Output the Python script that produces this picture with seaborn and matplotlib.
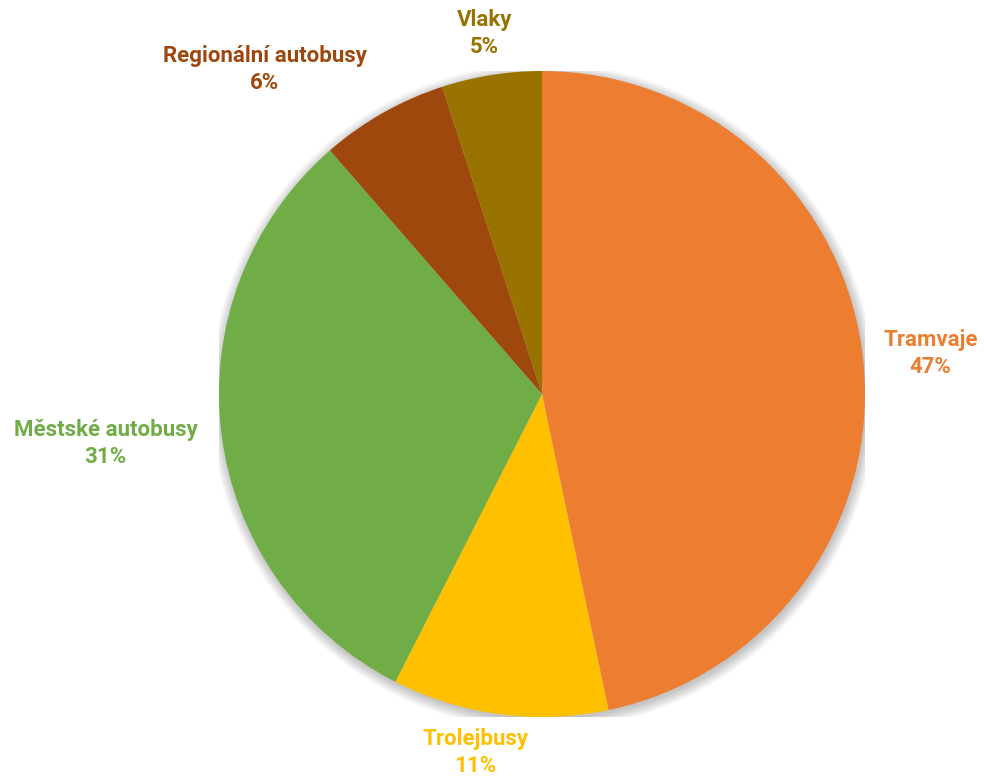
import matplotlib
matplotlib.use("Agg")
import matplotlib.pyplot as plt
import seaborn as sns
import numpy as np
from matplotlib.patches import Circle

categories = ["Tramvaje", "Trolejbusy", "Městské autobusy", "Regionální autobusy", "Vlaky"]
values = [46.7, 10.8, 31.1, 6.4, 5.0]

colors = sns.color_palette(["#ED7D31", "#FFC000", "#70AD47", "#9E480E", "#997300"])

sns.set_theme(style="white")
plt.rcParams['font.family'] = ['Roboto', 'DejaVu Sans']

W, H = 984, 780
fig = plt.figure(figsize=(W / 100, H / 100), dpi=100)
cx, cy, r = 542, 394, 323
ax = fig.add_axes([(cx - r) / W, 1 - (cy + r) / H, 2 * r / W, 2 * r / H])
ax.axis("off")

# soft shadow
for k in range(10):
    ax.add_patch(Circle((0.004, -0.008), 1.0 + k * 0.0035, color="black",
                        alpha=0.022, lw=0, zorder=0))

wedges, _ = ax.pie(values, colors=colors, startangle=90, counterclock=False,
                   radius=1.0, wedgeprops=dict(linewidth=0),
                   frame=False)
for w in wedges:
    w.set_zorder(2)
ax.set_xlim(-1, 1)
ax.set_ylim(-1, 1)
ax.set_aspect("equal")

total = sum(values)
# label placement style: distance factor and angular offset (deg)
label_dist = [1.21, 1.13, 1.36, 1.32, 1.13]
label_off = [0, -3, -0.5, 11, 0]
for w, cat, v, col, d, off in zip(wedges, categories, values, colors, label_dist, label_off):
    ang = np.deg2rad((w.theta1 + w.theta2) / 2 + off)
    x, y = d * np.cos(ang), d * np.sin(ang)
    ax.text(x, y, f"{cat}\n{round(100 * v / total)}%", ha="center", va="center", color=col,
            fontsize=16, fontweight="bold", linespacing=1.3, zorder=5,
            clip_on=False)

fig.savefig("out.png", dpi=100, facecolor="white")
